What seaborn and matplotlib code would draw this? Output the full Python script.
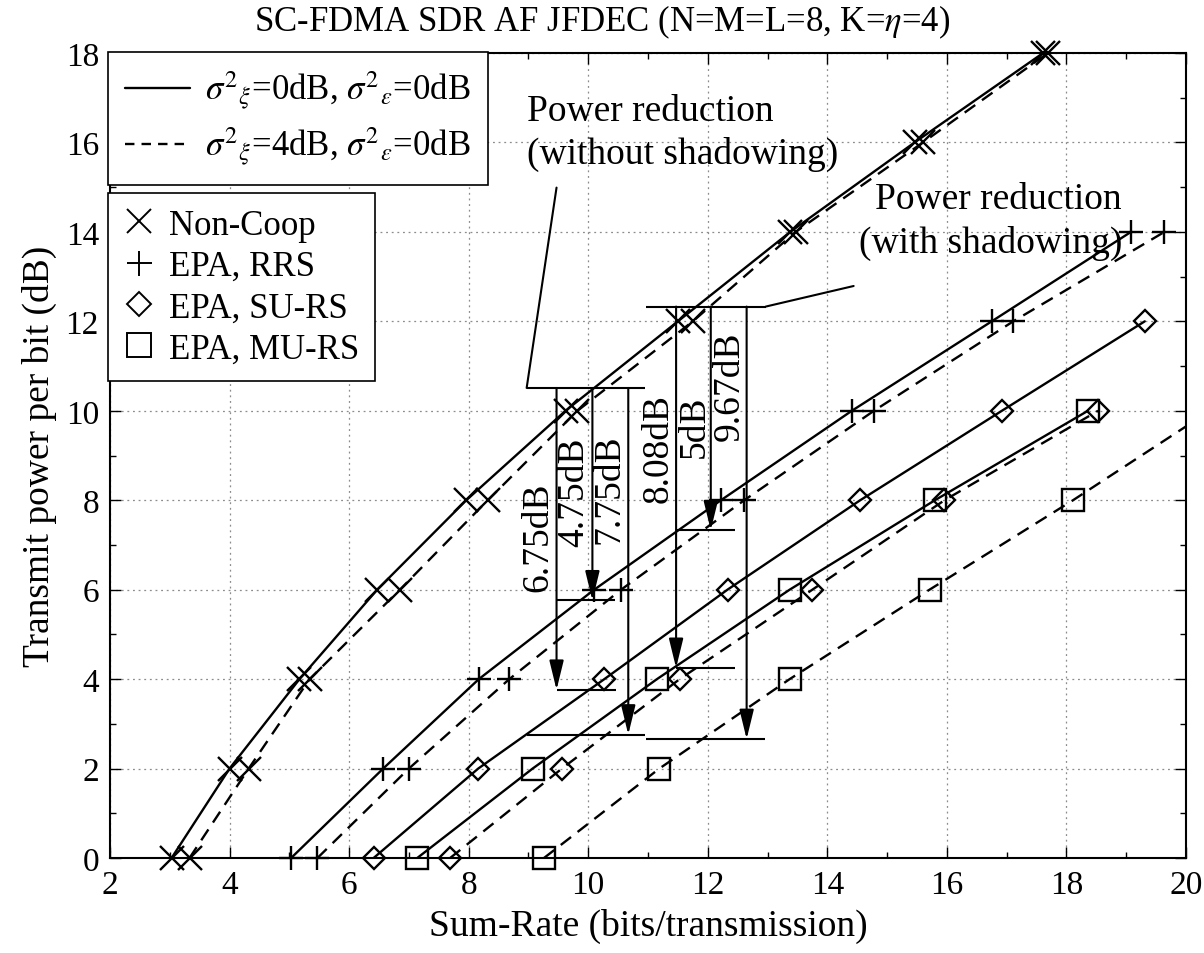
import matplotlib
matplotlib.use("Agg")
import matplotlib.pyplot as plt
from matplotlib.lines import Line2D
import numpy as np
import pandas as pd
import seaborn as sns

# ---------------- data ----------------
power_db = [0, 2, 4, 6, 8, 10, 12, 14, 16, 18]

noncoop_0dB = [3.03, 4.00, 5.17, 6.47, 7.96, 9.62, 11.50, 13.38, 15.46, 17.61]
noncoop_4dB = [3.33, 4.32, 5.34, 6.85, 8.32, 9.82, 11.75, 13.47, 15.60, 17.69]

rrs_0dB = [5.03, 6.57, 8.17, 10.10, 12.22, 14.41, 16.75, 19.08]
rrs_4dB = [5.47, 7.00, 8.68, 10.55, 12.61, 14.78, 17.11, 19.64]

surs_0dB = [6.41, 8.16, 10.27, 12.33, 14.55, 16.92, 19.31]
surs_4dB = [7.69, 9.56, 11.53, 13.75, 15.96, 18.53]

murs_0dB = [7.14, 9.07, 11.15, 13.37, 15.80, 18.36]
murs_4dB = [9.26, 11.19, 13.37, 15.71, 18.11, 20.40]

scheme_names = ["Non-Coop", "EPA, RRS", "EPA, SU-RS", "EPA, MU-RS"]
shadow_labels = [r"$\sigma^{2}{}_{\xi}$=0dB, $\sigma^{2}{}_{\epsilon}$=0dB",
                 r"$\sigma^{2}{}_{\xi}$=4dB, $\sigma^{2}{}_{\epsilon}$=0dB"]

# power-reduction annotations: (x of arrow, top y, drop in dB, label)
reduction_noshadow = [(9.47, 10.51, 6.75, "6.75dB"),
                      (10.07, 10.51, 4.75, "4.75dB"),
                      (10.67, 10.51, 7.75, "7.75dB")]
reduction_shadow = [(11.47, 12.33, 8.08, "8.08dB"),
                    (12.05, 12.33, 5.00, "5dB"),
                    (12.65, 12.33, 9.67, "9.67dB")]

XMIN, XMAX, YMIN, YMAX = 2, 20, 0, 18

# ---------------- style ----------------
sns.set_theme(style="ticks")
plt.rcParams["font.family"] = ["Liberation Serif", "DejaVu Serif"]
plt.rcParams["mathtext.fontset"] = "stix"
plt.rcParams["axes.edgecolor"] = "black"
plt.rcParams["xtick.color"] = "black"
plt.rcParams["ytick.color"] = "black"
plt.rcParams["text.color"] = "black"
plt.rcParams["axes.labelcolor"] = "black"

fig = plt.figure(figsize=(12.04, 9.54), dpi=100)
ax = fig.add_axes([110 / 1204, 1 - 859 / 954, (1186 - 110) / 1204, (859 - 54) / 954])

LW = 1.7
solid = "-"
dashed = (0, (5.5, 3.5))

curves = [
    (noncoop_0dB, solid, "x", 17), (noncoop_4dB, dashed, "x", 17),
    (rrs_0dB, solid, "+", 17), (rrs_4dB, dashed, "+", 17),
    (surs_0dB, solid, "D", 11), (surs_4dB, dashed, "D", 11),
    (murs_0dB, solid, "s", 16), (murs_4dB, dashed, "s", 16),
]
for rates, ls, mk, ms in curves:
    df = pd.DataFrame({"rate": rates, "power": power_db[:len(rates)]})
    # the line (clipped at the axes)
    sns.lineplot(data=df, x="rate", y="power", ax=ax, color="black",
                 linestyle=ls, linewidth=LW, sort=False, estimator=None, legend=False)
    # the markers inside the axis range, drawn unclipped so edge markers are whole
    inside = df[(df.rate >= XMIN) & (df.rate <= XMAX)]
    sns.lineplot(data=inside, x="rate", y="power", ax=ax, color="black",
                 linestyle="none", marker=mk, markersize=ms,
                 markerfacecolor="none", markeredgecolor="black",
                 markeredgewidth=LW, sort=False, estimator=None, legend=False,
                 clip_on=False, zorder=3)

ax.set_xlim(XMIN, XMAX)
ax.set_ylim(YMIN, YMAX)
ax.set_xticks(np.arange(2, 21, 2))
ax.set_yticks(np.arange(0, 19, 2))
ax.set_xticks(np.arange(3, 20, 2), minor=True)
ax.set_yticks(np.arange(1, 18, 2), minor=True)
ax.tick_params(which="both", direction="in", top=True, right=True, labelsize=24,
               width=1.0, color="black")
ax.tick_params(which="major", length=8, pad=8)
ax.tick_params(which="minor", length=4)
ax.grid(True, which="major", color="0.55", linestyle=(0, (1.5, 3)), linewidth=0.9)
for s in ax.spines.values():
    s.set_linewidth(1.5)
    s.set_color("black")

ax.set_xlabel("Sum-Rate (bits/transmission)", fontsize=27, labelpad=6)
ax.set_ylabel("Transmit power per bit (dB)", fontsize=27, labelpad=6)
fig.text(0.5, 1 - 22 / 954, r"SC-FDMA SDR AF JFDEC (N=M=L=8, K=$\eta$=4)",
         fontsize=25, ha="center", va="center")

# ---------------- annotations ----------------
arrowkw = dict(arrowstyle="-|>,head_length=0.9,head_width=0.22", color="black",
               lw=1.5, shrinkA=0, shrinkB=0, mutation_scale=20)

def bracket(xs, y):
    ax.plot(xs, [y, y], color="black", lw=1.5, solid_capstyle="butt")

# without shadowing
bracket([8.97, 10.95], 10.51)
ax.plot([8.97, 9.47], [10.51, 14.99], color="black", lw=1.5)
for (x, ytop, d, lab), (xl, xr), (tx, ty) in zip(
        reduction_noshadow,
        [(9.47, 10.47), (9.47, 10.45), (8.97, 10.95)],
        [(9.17, 7.19), (9.77, 8.19), (10.36, 8.26)]):
    ax.annotate("", xy=(x, ytop - d), xytext=(x, ytop), arrowprops=arrowkw)
    bracket([xl, xr], ytop - d)
    ax.text(tx, ty, lab, rotation=90, ha="center", va="center", fontsize=27)

# with shadowing
bracket([10.97, 12.97], 12.33)
ax.plot([12.97, 14.44], [12.33, 12.79], color="black", lw=1.5)
for (x, ytop, d, lab), (xl, xr), (tx, ty) in zip(
        reduction_shadow,
        [(11.47, 12.45), (11.47, 12.45), (10.97, 12.95)],
        [(11.17, 9.19), (11.77, 9.67), (12.36, 10.57)]):
    ax.annotate("", xy=(x, ytop - d), xytext=(x, ytop), arrowprops=arrowkw)
    bracket([xl, xr], ytop - d)
    ax.text(tx, ty, lab, rotation=90, ha="center", va="center", fontsize=27)

ax.text(8.97, 16.23, "Power reduction\n(without shadowing)", ha="left", va="center",
        fontsize=27, linespacing=1.3)
ax.text(18.93, 14.25, "Power reduction\n(with shadowing)", ha="right", va="center",
        fontsize=27, linespacing=1.3, multialignment="right")

# ---------------- legends ----------------
h1 = [Line2D([], [], color="black", lw=LW, linestyle=solid),
      Line2D([], [], color="black", lw=LW, linestyle=(0, (4, 3)))]
leg1 = ax.legend(h1, shadow_labels, loc="upper left",
                 bbox_to_anchor=(108 / 1204, 1 - 53 / 954), bbox_transform=fig.transFigure,
                 borderaxespad=0, fontsize=25, handlelength=1.85, handletextpad=0.45,
                 borderpad=0.5, labelspacing=0.4, frameon=True, fancybox=False,
                 edgecolor="black", framealpha=1)
leg1.get_frame().set_linewidth(1.2)
ax.add_artist(leg1)

h2 = [Line2D([], [], color="black", lw=0, marker=m, markersize=s, markerfacecolor="none",
             markeredgecolor="black", markeredgewidth=1.4)
      for m, s in [("x", 17), ("+", 18), ("D", 12), ("s", 17)]]
leg2 = ax.legend(h2, scheme_names, loc="upper left",
                 bbox_to_anchor=(108 / 1204, 1 - 194 / 954), bbox_transform=fig.transFigure,
                 borderaxespad=0, fontsize=25, handlelength=0.9, handletextpad=0.4,
                 borderpad=0.45, labelspacing=0.24, frameon=True, fancybox=False,
                 edgecolor="black", framealpha=1)
leg2.get_frame().set_linewidth(1.2)

fig.savefig("out.png", dpi=100)
